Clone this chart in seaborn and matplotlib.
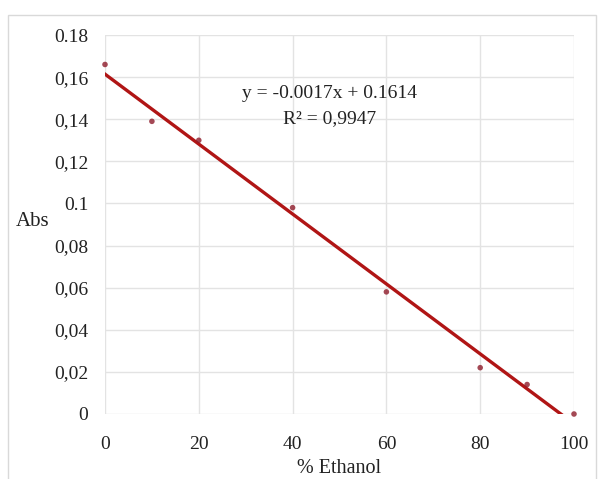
import numpy as np
import pandas as pd
import matplotlib
matplotlib.use("Agg")
import matplotlib.pyplot as plt
import seaborn as sns
from matplotlib.patches import Rectangle

ethanol = [0, 10, 20, 40, 60, 80, 90, 100]
absorbance = [0.166, 0.139, 0.130, 0.098, 0.058, 0.022, 0.014, 0.000]
x_ticks = [0, 20, 40, 60, 80, 100]
y_ticks = [0, 0.02, 0.04, 0.06, 0.08, 0.1, 0.12, 0.14, 0.16, 0.18]
y_tick_labels = ["0", "0,02", "0,04", "0,06", "0,08", "0.1", "0,12", "0,14", "0,16", "0.18"]
equation_text = "y = -0.0017x + 0.1614"
r2_text = "R² = 0,9947"

df = pd.DataFrame({"ethanol": ethanol, "abs": absorbance})

sns.set_theme(style="white")
plt.rcParams["font.family"] = ["Liberation Serif", "DejaVu Serif"]

W, H = 598, 479
fig = plt.figure(figsize=(W / 100, H / 100), dpi=100)
ax = fig.add_axes([105 / W, 1 - 414 / H, (574 - 105) / W, (414 - 35) / H])

# outer chart border
fig.patches.append(Rectangle((8 / W, -0.01), (596 - 8) / W, 1 - 15 / H + 0.01,
                             transform=fig.transFigure, fill=False,
                             edgecolor="#d9d9d9", linewidth=1.0))

sns.regplot(data=df, x="ethanol", y="abs", ax=ax, ci=None, truncate=False,
            scatter_kws=dict(s=16, color="#8e1b2a", edgecolor="none", zorder=3, clip_on=False),
            line_kws=dict(color="#b01515", linewidth=2.4, zorder=2))

ax.set_xlim(0, 100)
ax.set_ylim(0, 0.18)
ax.set_xticks(x_ticks)
ax.set_xticklabels([str(t) for t in x_ticks])
ax.set_yticks(y_ticks)
ax.set_yticklabels(y_tick_labels)
ax.tick_params(axis="both", labelsize=14, colors="#222222", length=0)
ax.tick_params(axis="y", pad=12)
ax.tick_params(axis="x", pad=16)
ax.grid(True, color="#e3e3e3", linewidth=1.0)
for s in ax.spines.values():
    s.set_visible(False)
ax.set_axisbelow(True)

ax.set_xlabel("% Ethanol", fontsize=14.5, color="#222222", labelpad=4)
ax.set_ylabel("")
fig.text(33 / W, 1 - 221 / H, "Abs", fontsize=15, color="#222222", ha="center", va="center")

fig.text(330 / W, 1 - 93 / H, equation_text, fontsize=14, color="#222222", ha="center", va="center")
fig.text(330 / W, 1 - 119 / H, r2_text, fontsize=14, color="#222222", ha="center", va="center")

fig.savefig("out.png", dpi=100)
